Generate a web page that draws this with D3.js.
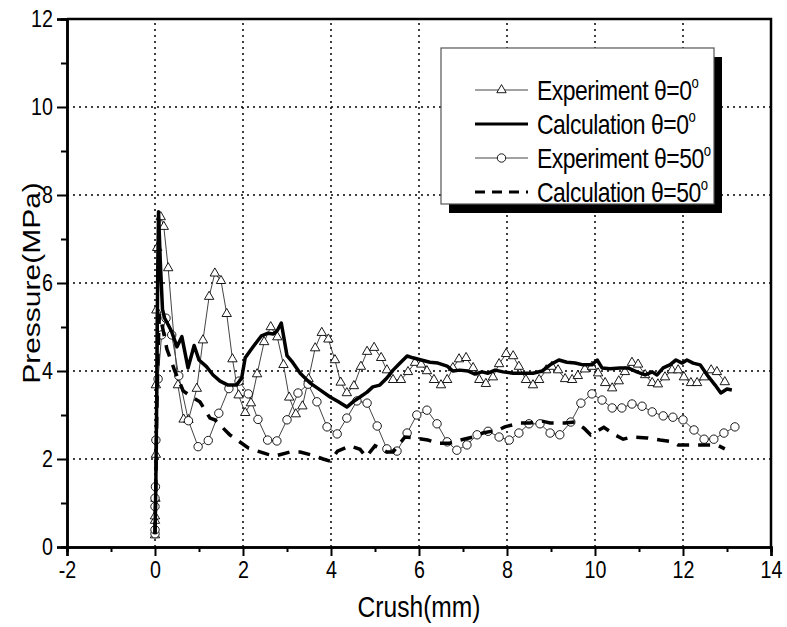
<!DOCTYPE html>
<html>
<head>
<meta charset="utf-8">
<script src="https://cdn.jsdelivr.net/npm/d3@7"></script>
<style>
  html, body { margin: 0; padding: 0; background: #fff; }
  text { font-family: "Liberation Sans", Arial, sans-serif; fill: #000; }
</style>
</head>
<body>
<div id="chart"></div>
<script>
// --------------------------------------------------------
// DATA
// --------------------------------------------------------
const xTicks = [-2, 0, 2, 4, 6, 8, 10, 12, 14];
const yTicks = [0, 2, 4, 6, 8, 10, 12];

// Experiment theta = 0 (triangles)
const exp0X = [0, 0, 0, 0.01, 0.02, 0.02, 0.03, 0.05, 0.13, 0.2, 0.3, 0.52, 0.65, 0.76, 0.95, 1.09, 1.23, 1.36, 1.5, 1.63, 1.76, 1.9, 2.05, 2.18, 2.32, 2.48, 2.63, 2.78, 2.92, 3.05, 3.2, 3.35, 3.49, 3.64, 3.79, 3.94, 4.09, 4.22, 4.36, 4.52, 4.68, 4.82, 4.98, 5.14, 5.27, 5.41, 5.59, 5.75, 5.91, 6.05, 6.18, 6.34, 6.5, 6.64, 6.77, 6.91, 7.07, 7.23, 7.37, 7.52, 7.68, 7.82, 7.98, 8.14, 8.27, 8.43, 8.59, 8.73, 8.89, 9.02, 9.16, 9.32, 9.48, 9.61, 9.77, 9.93, 10.07, 10.23, 10.39, 10.54, 10.68, 10.84, 10.98, 11.14, 11.3, 11.43, 11.59, 11.75, 11.89, 12.02, 12.18, 12.32, 12.48, 12.64, 12.77, 12.95];
const exp0Y = [0.27, 0.6, 0.7, 1.1, 2.1, 3.68, 5.38, 6.8, 7.5, 7.28, 6.34, 3.68, 2.9, 2.89, 3.6, 4.7, 5.69, 6.22, 6.05, 5.3, 4.27, 3.45, 3.05, 3.27, 3.93, 4.66, 5.0, 4.77, 4.14, 3.4, 3.02, 3.2, 3.82, 4.52, 4.87, 4.72, 4.25, 3.74, 3.5, 3.66, 4.1, 4.44, 4.53, 4.3, 4.02, 3.8, 3.8, 3.98, 4.19, 4.15, 4.0, 3.8, 3.68, 3.8, 4.07, 4.27, 4.3, 4.07, 3.8, 3.71, 3.86, 4.16, 4.39, 4.34, 4.1, 3.8, 3.68, 3.8, 4.02, 4.1, 4.02, 3.82, 3.8, 3.89, 4.04, 4.1, 3.95, 3.73, 3.61, 3.77, 3.98, 4.19, 4.15, 3.91, 3.73, 3.7, 3.86, 4.02, 4.02, 3.86, 3.73, 3.73, 3.86, 4.02, 3.98, 3.75];

// Calculation theta = 0 (thick solid)
const calc0X = [0, 0.02, 0.04, 0.06, 0.08, 0.12, 0.17, 0.22, 0.3, 0.38, 0.5, 0.61, 0.75, 0.89, 1.0, 1.17, 1.32, 1.48, 1.66, 1.85, 1.97, 2.05, 2.23, 2.42, 2.57, 2.69, 2.78, 2.87, 3.0, 3.11, 3.3, 3.52, 3.75, 3.98, 4.17, 4.36, 4.5, 4.66, 4.82, 4.95, 5.11, 5.27, 5.41, 5.57, 5.73, 5.86, 6.05, 6.25, 6.43, 6.64, 6.77, 6.93, 7.11, 7.27, 7.43, 7.57, 7.73, 7.91, 8.14, 8.36, 8.59, 8.8, 8.98, 9.18, 9.36, 9.55, 9.73, 9.93, 10.05, 10.16, 10.34, 10.57, 10.75, 10.95, 11.14, 11.3, 11.41, 11.55, 11.7, 11.84, 11.98, 12.09, 12.23, 12.39, 12.55, 12.73, 12.86, 13.0, 13.11];
const calc0Y = [0.3, 1.5, 3.5, 6.0, 7.62, 6.5, 5.4, 5.2, 5.05, 4.89, 4.55, 4.78, 4.07, 4.58, 4.25, 4.1, 3.91, 3.77, 3.68, 3.68, 3.84, 4.3, 4.55, 4.8, 4.86, 4.84, 4.92, 5.09, 4.35, 4.22, 3.95, 3.73, 3.57, 3.41, 3.3, 3.18, 3.3, 3.41, 3.52, 3.64, 3.68, 3.84, 4.02, 4.18, 4.34, 4.3, 4.25, 4.2, 4.18, 4.11, 4.0, 4.02, 4.0, 3.93, 3.98, 3.95, 4.02, 3.98, 3.95, 3.95, 3.95, 4.0, 4.14, 4.25, 4.2, 4.18, 4.14, 4.14, 4.25, 4.07, 4.05, 4.07, 4.07, 3.98, 3.91, 3.98, 3.91, 4.07, 4.14, 4.25, 4.18, 4.25, 4.18, 4.14, 3.91, 3.68, 3.5, 3.59, 3.57];

// Experiment theta = 50 (circles)
const exp50X = [0, 0, 0, 0, 0.01, 0.02, 0.07, 0.15, 0.25, 0.38, 0.54, 0.76, 0.98, 1.21, 1.45, 1.68, 1.91, 2.12, 2.34, 2.56, 2.77, 3.0, 3.25, 3.48, 3.68, 3.91, 4.14, 4.36, 4.59, 4.82, 5.05, 5.27, 5.5, 5.73, 5.95, 6.18, 6.41, 6.64, 6.86, 7.09, 7.32, 7.57, 7.82, 8.05, 8.27, 8.5, 8.75, 8.98, 9.2, 9.45, 9.68, 9.93, 10.16, 10.39, 10.61, 10.84, 11.07, 11.3, 11.55, 11.77, 12.0, 12.25, 12.48, 12.7, 12.93, 13.18];
const exp50Y = [0.3, 0.39, 0.92, 1.11, 1.37, 2.43, 3.82, 4.82, 5.2, 4.82, 3.89, 2.87, 2.28, 2.42, 3.04, 3.6, 3.77, 3.48, 2.9, 2.43, 2.41, 2.89, 3.5, 3.7, 3.3, 2.73, 2.57, 2.93, 3.32, 3.27, 2.75, 2.23, 2.18, 2.59, 3.0, 3.11, 2.8, 2.39, 2.2, 2.32, 2.55, 2.63, 2.5, 2.43, 2.59, 2.8, 2.8, 2.59, 2.55, 2.84, 3.27, 3.48, 3.34, 3.16, 3.16, 3.25, 3.2, 3.07, 2.98, 2.95, 2.89, 2.66, 2.45, 2.45, 2.59, 2.73];

// Calculation theta = 50 (thick dashed)
const calc50X = [0, 0.02, 0.04, 0.07, 0.1, 0.17, 0.27, 0.45, 0.64, 0.85, 1.02, 1.25, 1.36, 1.7, 2.12, 2.27, 2.55, 2.73, 3.07, 3.3, 3.64, 3.82, 3.98, 4.15, 4.43, 4.66, 4.8, 5.0, 5.27, 5.41, 5.68, 5.91, 6.2, 6.43, 6.7, 6.93, 7.23, 7.45, 7.8, 7.95, 8.3, 8.52, 8.8, 8.98, 9.32, 9.55, 9.75, 9.9, 10.2, 10.45, 10.64, 10.84, 11.18, 11.48, 11.77, 11.89, 12.23, 12.45, 12.77, 12.95];
const calc50Y = [0.3, 1.5, 3.0, 4.5, 5.3, 5.0, 4.5, 4.0, 3.55, 3.4, 3.3, 2.93, 2.89, 2.55, 2.25, 2.2, 2.11, 2.07, 2.16, 2.16, 2.07, 2.0, 1.95, 2.18, 2.3, 2.22, 2.05, 2.3, 2.16, 2.16, 2.5, 2.48, 2.43, 2.36, 2.36, 2.43, 2.5, 2.59, 2.66, 2.73, 2.82, 2.82, 2.86, 2.82, 2.82, 2.84, 2.7, 2.55, 2.72, 2.55, 2.45, 2.5, 2.48, 2.43, 2.39, 2.32, 2.32, 2.32, 2.32, 2.23];

const legendLabels = ["Experiment \u03B8=0", "Calculation \u03B8=0", "Experiment \u03B8=50", "Calculation \u03B8=50"];

// --------------------------------------------------------
// LAYOUT
// --------------------------------------------------------
const width = 787;
const height = 627;
const margin = { top: 19, right: 16, bottom: 80, left: 67 };
const squish = 0.82; // condensed look of the original lettering

const svg = d3.select("#chart").append("svg")
  .attr("width", width)
  .attr("height", height);

const x = d3.scaleLinear().domain([-2, 14]).range([margin.left, width - margin.right]);
const y = d3.scaleLinear().domain([0, 12]).range([height - margin.bottom, margin.top]);

const zip = (xs, ys) => xs.map((v, i) => [v, ys[i]]);
const plain = d => String(d); // hyphen minus like the original, not U+2212

// grid
const grid = svg.append("g")
  .attr("stroke", "#000")
  .attr("stroke-width", 1.5)
  .attr("stroke-dasharray", "2,4");
grid.selectAll("line.vx")
  .data(xTicks.filter(d => d > -2 && d < 14))
  .join("line")
  .attr("x1", d => x(d)).attr("x2", d => x(d))
  .attr("y1", y(0)).attr("y2", y(12));
grid.selectAll("line.hy")
  .data(yTicks.filter(d => d > 0 && d < 12))
  .join("line")
  .attr("x1", x(-2)).attr("x2", x(14))
  .attr("y1", d => y(d)).attr("y2", d => y(d));

// axes
function styleAxis(g) {
  g.select(".domain").attr("stroke-width", 2.5);
  g.selectAll(".tick line").attr("stroke-width", 2);
}
const xMinor = d3.range(-1, 14, 2);
const yMinor = d3.range(1, 12, 2);

svg.append("g")
  .attr("transform", `translate(0,${y(0)})`)
  .call(d3.axisBottom(x).tickValues(xMinor).tickSize(5).tickFormat(""))
  .call(styleAxis);
const xAxis = svg.append("g")
  .attr("transform", `translate(0,${y(0)})`)
  .call(d3.axisBottom(x).tickValues(xTicks).tickSize(9).tickPadding(5).tickFormat(plain))
  .call(styleAxis);
xAxis.selectAll(".tick text")
  .attr("font-size", 24)
  .attr("transform", function () {
    const t = d3.select(this);
    return `translate(0,${t.attr("y")}) scale(${squish},1) translate(0,${-t.attr("y")})`;
  });

svg.append("g")
  .attr("transform", `translate(${x(-2)},0)`)
  .call(d3.axisLeft(y).tickValues(yMinor).tickSize(6).tickFormat(""))
  .call(styleAxis);
const yAxis = svg.append("g")
  .attr("transform", `translate(${x(-2)},0)`)
  .call(d3.axisLeft(y).tickValues(yTicks).tickSize(10).tickPadding(4).tickFormat(plain))
  .call(styleAxis);
yAxis.selectAll(".tick text")
  .attr("font-size", 24)
  .attr("transform", function () {
    const t = d3.select(this);
    return `translate(${t.attr("x")},0) scale(${squish},1) translate(${-t.attr("x")},0)`;
  });
svg.selectAll(".domain").attr("stroke", "#000");

// top and right frame
svg.append("path")
  .attr("fill", "none")
  .attr("stroke", "#000")
  .attr("stroke-width", 2.5)
  .attr("d", `M${x(-2)},${y(12)}H${x(14)}V${y(0)}`);

// axis titles
svg.append("text")
  .attr("transform", `translate(${(x(-2) + x(14)) / 2},${height - 10}) scale(${squish},1)`)
  .attr("text-anchor", "middle")
  .attr("font-size", 30)
  .text("Crush(mm)");

svg.append("text")
  .attr("transform", `translate(40,${(y(0) + y(12)) / 2}) scale(${squish},1) rotate(-90)`)
  .attr("text-anchor", "middle")
  .attr("font-size", 30)
  .text("Pressure(MPa)");

// --------------------------------------------------------
// SERIES
// --------------------------------------------------------
const line = d3.line().x(d => x(d[0])).y(d => y(d[1]));
const tri = d3.symbol().type(d3.symbolTriangle).size(38);

const exp0 = zip(exp0X, exp0Y);
const exp50 = zip(exp50X, exp50Y);
const calc0 = zip(calc0X, calc0Y);
const calc50 = zip(calc50X, calc50Y);

svg.append("path").datum(exp0)
  .attr("fill", "none").attr("stroke", "#444").attr("stroke-width", 1)
  .attr("d", line);
svg.append("path").datum(exp50)
  .attr("fill", "none").attr("stroke", "#444").attr("stroke-width", 1)
  .attr("d", line);

svg.append("g").selectAll("path")
  .data(exp0)
  .join("path")
  .attr("transform", d => `translate(${x(d[0])},${y(d[1])})`)
  .attr("d", tri)
  .attr("fill", "#fff").attr("stroke", "#000").attr("stroke-width", 0.9);

svg.append("g").selectAll("circle")
  .data(exp50)
  .join("circle")
  .attr("cx", d => x(d[0])).attr("cy", d => y(d[1]))
  .attr("r", 4.2)
  .attr("fill", "#fff").attr("stroke", "#000").attr("stroke-width", 0.9);

svg.append("path").datum(calc0)
  .attr("fill", "none").attr("stroke", "#000").attr("stroke-width", 3.5)
  .attr("stroke-linejoin", "round")
  .attr("d", line);
svg.append("path").datum(calc50)
  .attr("fill", "none").attr("stroke", "#000").attr("stroke-width", 3.5)
  .attr("stroke-dasharray", "12,9")
  .attr("d", line);

// --------------------------------------------------------
// LEGEND
// --------------------------------------------------------
const lg = svg.append("g");
lg.append("rect")
  .attr("x", 449).attr("y", 57).attr("width", 273).attr("height", 156)
  .attr("fill", "#000");
lg.append("rect")
  .attr("x", 441).attr("y", 48).attr("width", 273).attr("height", 156)
  .attr("fill", "#fff").attr("stroke", "#555").attr("stroke-width", 1.2);

const rowY = [90, 124, 158, 192];
const lx0 = 475, lx1 = 528;
legendLabels.forEach((label, i) => {
  const cy = rowY[i];
  const isCalc = i % 2 === 1;
  lg.append("line")
    .attr("x1", lx0).attr("x2", lx1).attr("y1", cy).attr("y2", cy)
    .attr("stroke", isCalc ? "#000" : "#444")
    .attr("stroke-width", isCalc ? 3 : 1)
    .attr("stroke-dasharray", i === 3 ? "10,7" : null);
  if (i === 0) {
    lg.append("path")
      .attr("transform", `translate(${(lx0 + lx1) / 2},${cy})`)
      .attr("d", tri)
      .attr("fill", "#fff").attr("stroke", "#000").attr("stroke-width", 0.9);
  }
  if (i === 2) {
    lg.append("circle")
      .attr("cx", (lx0 + lx1) / 2).attr("cy", cy).attr("r", 4.2)
      .attr("fill", "#fff").attr("stroke", "#000").attr("stroke-width", 0.9);
  }
  const t = lg.append("text")
    .attr("transform", `translate(537,${cy + 10}) scale(${squish},1)`)
    .attr("font-size", 28)
    .attr("letter-spacing", -0.6);
  t.append("tspan").text(label);
  t.append("tspan").attr("dy", -12).attr("font-size", 16).text("o");
});
</script>
</body>
</html>
